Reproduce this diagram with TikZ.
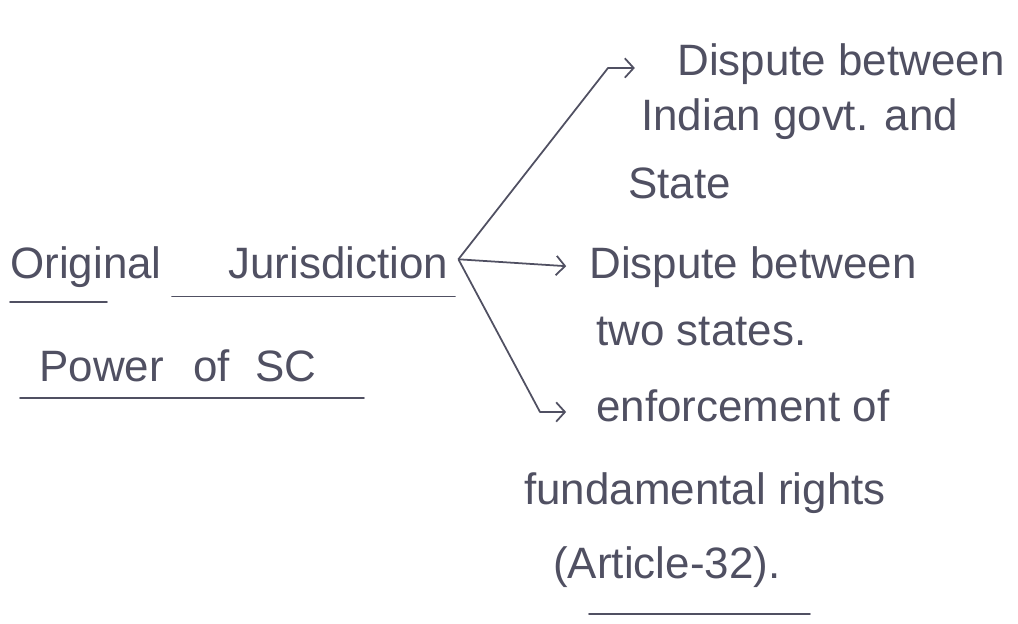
\documentclass[tikz,border=0pt]{standalone}
\usepackage{fontspec}
\setmainfont{Liberation Sans}
\usetikzlibrary{arrows.meta}
\definecolor{ink}{RGB}{80,80,98}
\tikzset{
  hand/.style={font=\fontsize{25}{30}\selectfont, text=ink, inner sep=0pt, anchor=base west},
  conn/.style={draw=ink, line width=1pt, -{Straight Barb[length=5pt,width=11pt]}, line join=round},
  ul/.style={draw=ink, line width=1pt, line cap=round}
}
\begin{document}
\begin{tikzpicture}[x=0.02cm, y=-0.02cm]
\fill[white] (0,0) rectangle (1018,624);
\useasboundingbox (0,0) rectangle (1018,624);
% root
\node[hand] (orig) at (10,279) {Original};
\node[hand] (juris) at (228,279) {Jurisdiction};
\node[hand] (power) at (39,382) {Power\hspace{0.4em} of\hspace{0.3em} SC};
\draw[ul] ([yshift=-13pt]orig.base west) -- ++(97,0);
\draw[ul] ([yshift=-10pt]juris.base west) ++(-56,0) -- ++(283,0);
\draw[ul] ([yshift=-9pt]power.base west) ++(-19,0) -- ++(344,0);
% branch 1
\node[hand] (d1a) at (677,76) {Dispute between};
\node[hand] (d1b) at (641,131) {Indian govt. and};
\node[hand] (d1c) at (628,199) {State};
% branch 2
\node[hand] (d2a) at (589,279) {Dispute between};
\node[hand] (d2b) at (596,346) {two states.};
% branch 3
\node[hand] (d3a) at (596,422) {enforcement of};
\node[hand] (d3b) at (524,505) {fundamental rights};
\node[hand] (d3c) at (553,579) {(Article-32).};
\draw[ul] ([yshift=-20pt]d3c.base west) ++(36,0) -- ++(221,0);
% connectors
\path (juris.east) ++(10,-4) coordinate (hub);
\coordinate (k1) at (608,68);
\coordinate (k3) at (540,412);
\draw[conn, shorten >=24pt] (hub) -- (k1) -- (k1 -| d1a.west);
\draw[conn, shorten >=13pt] (hub) -- (d2a.west);
\draw[conn, shorten >=17pt] (hub) -- (k3) -- (k3 -| d3a.west);
\end{tikzpicture}
\end{document}
